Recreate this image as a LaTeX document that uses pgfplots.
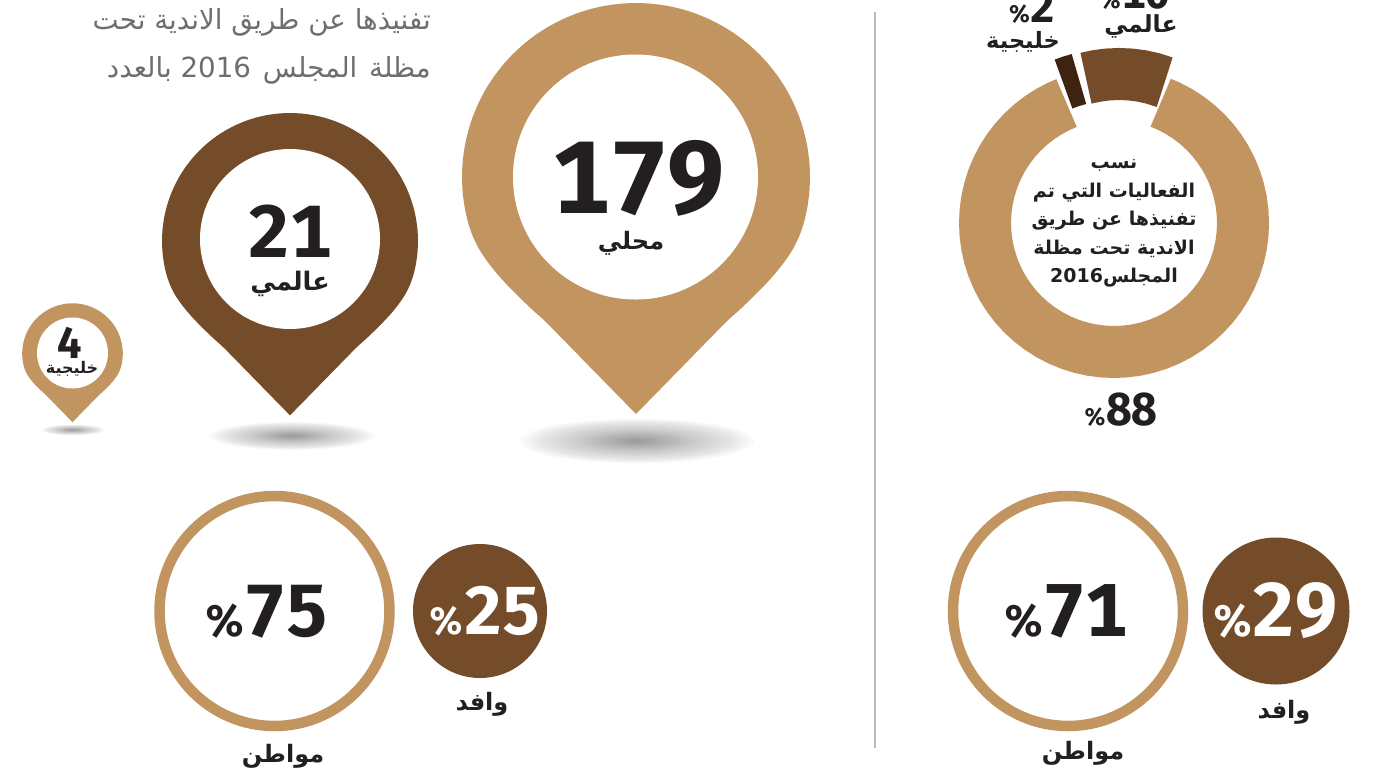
\documentclass[border=0pt]{standalone}
\usepackage{fontspec}
\usepackage{pgfplots}
\usepackage{pgfplotstable}
\pgfplotsset{compat=1.18}
\TeXXeTstate=1
\setmainfont{Fira Sans}[Numbers={Lining,Monospaced}]
\newfontfamily\arb[Script=Arabic]{DejaVu Sans}
\definecolor{tan}{HTML}{C29560}
\definecolor{brn}{HTML}{754C29}
\definecolor{drk}{HTML}{3F2311}
\definecolor{ink}{HTML}{231F20}
\definecolor{hdg}{HTML}{6D6E71}
\newcommand\fs[1]{\fontsize{#1}{#1}\selectfont}
\newcommand\ar[1]{{\arb\beginR #1\endR}}
\newcommand\lab[4]{\node[font=\bfseries,text=ink,inner sep=0pt] at (axis cs:#1,#2) {\fs{#3}\ar{#4}};}
\newcommand\lbase[4]{\node[font=\bfseries,text=ink,inner sep=0pt,anchor=base] at (axis cs:#1,#2) {\fs{#3}\arb #4};}
\newcommand\val[4]{\node[font=\bfseries,text=ink,inner sep=0pt] at (axis cs:#1,#2) {\fs{#3}#4};}
% x, y, size, size of the percent sign, colour, value
\newcommand\pct[6]{\node[font=\bfseries,text=#5,inner sep=0pt] at (axis cs:#1,#2) {\fs{#3}{\fs{#4}\%}#6};}

% pin outline from the tip round: angle (deg, y down), radius relative to the round head
\pgfplotstableread[row sep=\\]{
t r\\
90 1.362\\ 103.1 1.130\\ 121.4 .983\\ 128 .968\\ 134 .963\\ 140 .966\\ 145 .973\\ 150 .982\\ 155 .992\\ 160 .998\\ 165 1\\ 170 1\\ 175 1\\
180 1\\ 185 1\\ 190 1\\ 195 1\\ 200 1\\ 205 1\\ 210 1\\ 215 1\\ 220 1\\ 225 1\\ 230 1\\ 235 1\\ 240 1\\ 245 1\\ 250 1\\ 255 1\\ 260 1\\ 265 1\\
270 1\\ 275 1\\ 280 1\\ 285 1\\ 290 1\\ 295 1\\ 300 1\\ 305 1\\ 310 1\\ 315 1\\ 320 1\\ 325 1\\ 330 1\\ 335 1\\ 340 1\\ 345 1\\ 350 1\\ 355 1\\
360 1\\ 365 1\\ 370 1\\ 375 1\\ 380 .998\\ 385 .992\\ 390 .982\\ 395 .973\\ 400 .966\\ 406 .963\\ 412 .968\\ 418.6 .983\\ 436.9 1.130\\ 450 1.362\\
}\pintable

\newcommand\pin[4]{\addplot[smooth,tension=.4,fill=#4,draw=none] table[
  x expr={#1+#3*\thisrow{r}*cos(\thisrow{t})},
  y expr={#2+#3*\thisrow{r}*sin(\thisrow{t})}] {\pintable};}
\newcommand\disc[4]{\addplot[only marks,mark=*,mark size=#3pt,
  mark options={draw opacity=0,fill=#4}] coordinates {(#1,#2)};}
\newcommand\ring[4]{\addplot[only marks,mark=*,mark size=#3pt,
  mark options={draw=tan,line width=#4pt,fill=white}] coordinates {(#1,#2)};}
\newcommand\shadow[4]{\pgfplotsinvokeforeach{1,.95,.9,.85,.8,.74,.68,.62,.56,.5,.45,.4,.36,.32,.28,.24,.2,.16,.12,.08}{
  \addplot[only marks,mark=*,mark size={#3*##1*1pt},
    mark options={yscale=#4,draw opacity=0,fill=black,fill opacity=.024}] coordinates {(#1,#2)};}}
\pgfplotsset{page/.style={width=1373pt,height=772pt,scale only axis,hide axis,clip=false,xmin=0,xmax=1373,ymin=0,ymax=772,y dir=reverse}}

\begin{document}
\begin{tikzpicture}
\useasboundingbox (0,0) rectangle (1373pt,772pt);
\clip (0,0) rectangle (1373pt,772pt);
\begin{axis}[page]
\addplot[draw=black!27,line width=1.5pt] coordinates {(875,12) (875,748)};

\shadow{637}{441}{117}{.19}
\shadow{292}{436}{82}{.17}
\shadow{73}{430}{31}{.17}

\pin{636}{177}{174}{tan}
\disc{635.5}{177}{122.5}{white}
\pin{290}{241}{128}{brn}
\disc{290}{239}{90}{white}
\pin{72.5}{353.6}{50.3}{tan}
\disc{72.5}{353}{35.5}{white}

\ring{274.5}{611}{115}{10.5}
\disc{480}{611}{67}{brn}
\ring{1068}{611}{115}{10.5}
\disc{1276}{611}{73.5}{brn}
\end{axis}

% donut: shares 88, 10, 2 as polar arcs round the centre
\begin{axis}[
  width=1373pt,height=772pt,scale only axis,
  xmin=-1114,xmax=259,ymin=-549,ymax=223,
  hide axis,clip=false,
]
\addplot[data cs=polar,draw=tan,line width=52pt] coordinates {
(68.8,129)(65,129)(60,129)(55,129)(50,129)(45,129)(40,129)(35,129)(30,129)(25,129)(20,129)(15,129)(10,129)(5,129)(0,129)
(-5,129)(-10,129)(-15,129)(-20,129)(-25,129)(-30,129)(-35,129)(-40,129)(-45,129)(-50,129)(-55,129)(-60,129)(-65,129)(-70,129)(-75,129)(-80,129)(-85,129)(-90,129)
(-95,129)(-100,129)(-105,129)(-110,129)(-115,129)(-120,129)(-125,129)(-130,129)(-135,129)(-140,129)(-145,129)(-150,129)(-155,129)(-160,129)(-165,129)(-170,129)(-175,129)(-180,129)
(-185,129)(-190,129)(-195,129)(-200,129)(-205,129)(-210,129)(-215,129)(-220,129)(-225,129)(-230,129)(-235,129)(-240,129)(-245,129)(-248.4,129)};
\addplot[data cs=polar,draw=brn,line width=52pt,xshift=5pt,yshift=18pt] coordinates {
(69.6,131)(75,131)(80,131)(85,131)(90,131)(95,131)(100,131)(104.6,131)};
\addplot[data cs=polar,draw=drk,line width=52pt,xshift=-3pt,yshift=19pt] coordinates {
(104.4,129)(108,129)(111.6,129)};
\end{axis}

% all text last, above the discs
\begin{axis}[page]
\node[anchor=east,text=hdg,inner sep=0pt] at (axis cs:431,22) {\fs{27.7}\ar{تفنيذها عن طريق الاندية تحت}};
\node[anchor=east,text=hdg,inner sep=0pt] at (axis cs:431,70) {\fs{27.7}\ar{مظلة\hspace{3pt} المجلس\hspace{3pt} \beginL 2016\endL{} بالعدد}};

\val{639}{178}{103}{179}
\lab{631}{243}{24}{محلي}
\val{290}{231}{74}{21}
\lab{290}{284}{25.5}{عالمي}
\val{70}{343}{44}{4}
\lab{72}{369}{16}{خليجية}

\pct{1121}{410}{46}{24}{ink}{88}
\lab{1023}{42}{22.5}{خليجية}
\pct{1032}{7}{44}{24}{ink}{2}
\lab{1141}{26}{23.5}{عالمي}
\pct{1135}{-7}{44}{24}{ink}{10}

\lbase{1114}{168}{19}{\beginR نسب\endR}
\lbase{1114}{197}{19}{\beginR الفعاليات التي تم\endR}
\lbase{1114}{225}{19}{\beginR تفنيذها عن طريق\endR}
\lbase{1114}{254}{19}{\beginR الاندية تحت مظلة\endR}
\lbase{1114}{282}{19}{\beginR المجلس\beginL 2016\endL\endR}

\pct{266.5}{611.5}{74}{44}{ink}{75}
\pct{485}{611}{68}{38}{white}{25}
\pct{1066}{611.5}{75}{44}{ink}{71}
\pct{1275.5}{611}{76}{44}{white}{29}

\lab{482}{704}{24}{وافد}
\lab{283}{756}{24}{مواطن}
\lab{1284}{712}{24}{وافد}
\lab{1083}{753}{24}{مواطن}
\end{axis}
\end{tikzpicture}
\end{document}
